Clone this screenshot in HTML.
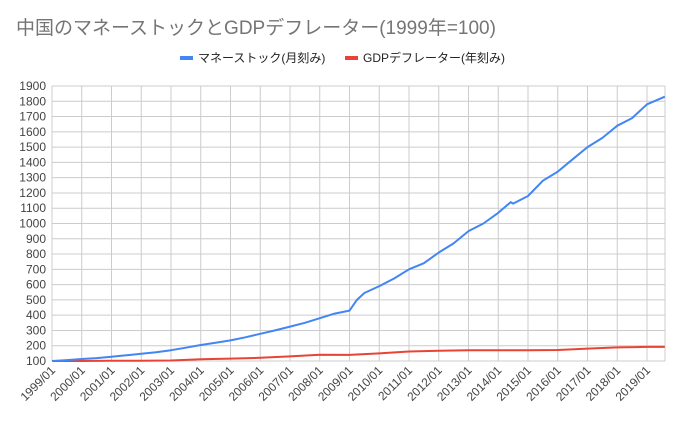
<!DOCTYPE html>
<html><head><meta charset="utf-8"><style>
body{margin:0;background:#fff;width:685px;height:423px;overflow:hidden}
text{font-family:"Liberation Sans","Noto Sans CJK JP",sans-serif}
</style></head><body>
<svg id="chart" width="685" height="423" xmlns="http://www.w3.org/2000/svg">
<text x="16" y="34" font-size="19" fill="#757575">中国のマネーストックとGDPデフレーター(1999年=100)</text>
<g>
<rect x="180" y="56" width="13" height="4" fill="#4285f4"/>
<text x="198" y="62" font-size="12" fill="#222">マネーストック(月刻み)</text>
<rect x="345" y="56" width="13" height="4" fill="#ea4335"/>
<text x="363" y="62" font-size="12" fill="#222">GDPデフレーター(年刻み)</text>
</g>
<g id="grid"></g><g id="axes"></g><g id="series"></g>
</svg>
<script>
const yTicks=[100,200,300,400,500,600,700,800,900,1000,1100,1200,1300,1400,1500,1600,1700,1800,1900];
const xTickYears=[1999,2000,2001,2002,2003,2004,2005,2006,2007,2008,2009,2010,2011,2012,2013,2014,2015,2016,2017,2018,2019];
const moneyDates=[1999,1999.5,2000,2000.5,2001,2001.5,2002,2002.5,2003,2003.5,2004,2004.5,2005,2005.5,2006,2006.5,2007,2007.5,2008,2008.5,2009,2009.25,2009.5,2010,2010.5,2011,2011.5,2012,2012.5,2013,2013.5,2014,2014.42,2014.5,2015,2015.5,2016,2016.5,2017,2017.5,2018,2018.5,2019,2019.6];
const moneyValues=[100,106,113,119,128,137,147,157,171,187,205,220,235,255,278,300,325,350,380,410,430,500,545,590,640,700,740,810,870,950,1000,1070,1140,1130,1180,1280,1340,1420,1500,1560,1640,1690,1780,1830];
const gdpDates=[1999,2000,2001,2002,2003,2004,2005,2006,2007,2008,2009,2010,2011,2012,2013,2014,2015,2016,2017,2018,2019,2019.6];
const gdpValues=[100,100,101,101,103,111,116,121,130,141,140,150,162,167,171,171,171,172,181,189,192,192];

const NS="http://www.w3.org/2000/svg";
const L=52,R=665,T=86,B=361;
const x=d=>L+(d-1999)*(647-52)/20;
const y=v=>B-(v-100)/1800*(B-T);
const grid=document.getElementById('grid'),axes=document.getElementById('axes'),ser=document.getElementById('series');
function mk(tag,attrs,parent){const e=document.createElementNS(NS,tag);for(const k in attrs)e.setAttribute(k,attrs[k]);parent.appendChild(e);return e;}
yTicks.forEach(v=>{
 const l=mk('line',{x1:L,x2:R,y1:y(v),y2:y(v),stroke:'#cccccc','stroke-width':1},grid);
 
 
 const t=mk('text',{x:L-6,y:y(v)+4,'font-size':12,'text-anchor':'end',fill:'#444'},axes);
 t.textContent=v;
 
 
});
xTickYears.forEach(yr=>{
 const l=mk('line',{x1:x(yr),x2:x(yr),y1:T,y2:B,stroke:'#cccccc','stroke-width':1},grid);
 
 
 const t=mk('text',{x:x(yr)+4,y:B+10,'font-size':12,'text-anchor':'end',fill:'#444',transform:`rotate(-45 ${x(yr)+4} ${B+10})`},axes);
 t.textContent=yr+'/01';
 
 
});
const r=mk('line',{x1:R,x2:R,y1:T,y2:B,stroke:'#cccccc'},grid);


function path(ds,vs,color,name){
 const d=ds.map((dd,i)=>(i?'L':'M')+x(dd).toFixed(1)+','+y(vs[i]).toFixed(1)).join(' ');
 const p=mk('path',{d:d,fill:'none',stroke:color,'stroke-width':2,'stroke-linejoin':'round'},ser);
 
 
}
path(gdpDates,gdpValues,'#ea4335','gdp-deflator-line');
path(moneyDates,moneyValues,'#4285f4','money-stock-line');
</script>
</body></html>
